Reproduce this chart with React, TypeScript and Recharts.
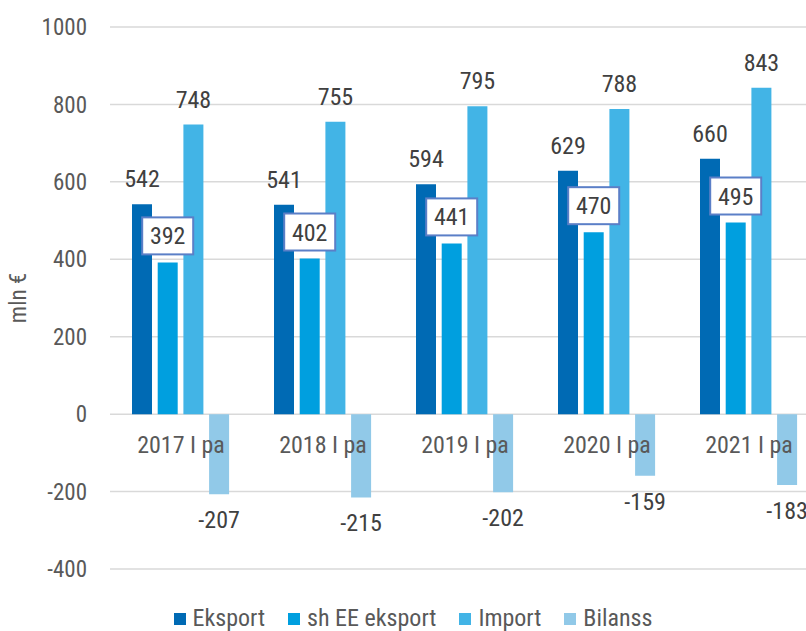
import React from 'react';
import { ComposedChart, Bar, Line, XAxis, YAxis, CartesianGrid, Legend, LabelList } from 'recharts';

const categories = ['2017 I pa', '2018 I pa', '2019 I pa', '2020 I pa', '2021 I pa'];
const eksport = [542, 541, 594, 629, 660];
const shEeEksport = [392, 402, 441, 470, 495];
const importValues = [748, 755, 795, 788, 843];
const bilanss = [-207, -215, -202, -159, -183];
const axisBase = [0, 0, 0, 0, 0];
const yTicks = [-400, -200, 0, 200, 400, 600, 800, 1000];
const seriesNames = ['Eksport', 'sh EE eksport', 'Import', 'Bilanss'];

const C_EKS = '#006AB4';
const C_SHEE = '#009FDF';
const C_IMP = '#42B4E6';
const C_BIL = '#91C9E8';
const seriesColors = [C_EKS, C_SHEE, C_IMP, C_BIL];

const data = categories.map((cat, i) => ({
  cat,
  eksport: eksport[i],
  shEe: shEeEksport[i],
  imp: importValues[i],
  bilanss: bilanss[i],
  base: axisBase[i],
}));

const FONT = 'Roboto, "Noto Sans", sans-serif';
const STRETCH = 'condensed';
const FS = 24;
const LABEL_COLOR = '#404040';
const TICK_COLOR = '#595959';

function box(p: any) {
  const vb = p.viewBox || {};
  const x = vb.x ?? p.x ?? 0;
  const y = vb.y ?? p.y ?? 0;
  const w = vb.width ?? p.width ?? 0;
  const h = vb.height ?? p.height ?? 0;
  return { cx: x + w / 2, top: Math.min(y, y + h), bottom: Math.max(y, y + h) };
}

const textStyle: any = { fontFamily: FONT, fontStretch: STRETCH };

const TopLabel = (p: any) => {
  const b = box(p);
  return (
    <text x={b.cx} y={b.top - 17} textAnchor="middle" fontSize={FS} fill={LABEL_COLOR} style={textStyle}>
      {p.value}
    </text>
  );
};

const BoxLabel = (p: any) => {
  const b = box(p);
  const cy = b.top - 26.5;
  const w = 51;
  const h = 37;
  return (
    <g>
      <rect x={b.cx - w / 2} y={cy - h / 2} width={w} height={h} fill="#fff" stroke="#5B7FC7" strokeWidth={2} />
      <text x={b.cx} y={cy + 8.5} textAnchor="middle" fontSize={FS} fill={LABEL_COLOR} style={textStyle}>
        {p.value}
      </text>
    </g>
  );
};

const BottomLabel = (p: any) => {
  const b = box(p);
  return (
    <text x={b.cx} y={b.bottom + 34} textAnchor="middle" fontSize={FS} fill={LABEL_COLOR} style={textStyle}>
      {p.value}
    </text>
  );
};

const CatLabel = (p: any) => {
  const b = box(p);
  return (
    <text x={b.cx} y={b.top + 39} textAnchor="middle" fontSize={FS} fill={TICK_COLOR} style={textStyle}>
      {p.value}
    </text>
  );
};

const YLabel = (p: any) => {
  const vb = p.viewBox || {};
  const cy = (vb.y ?? 0) + (vb.height ?? 0) / 2;
  const x = (vb.x ?? 0) + 18;
  return (
    <text
      x={x}
      y={cy}
      transform={`rotate(-90, ${x}, ${cy})`}
      textAnchor="middle"
      dominantBaseline="central"
      fontSize={23}
      fill={TICK_COLOR}
      style={textStyle}
    >
      mln €
    </text>
  );
};

const LegendContent = () => (
  <div style={{ display: 'flex', justifyContent: 'center', alignItems: 'center', height: 25, fontFamily: FONT, fontStretch: STRETCH, fontSize: FS, color: TICK_COLOR, lineHeight: '25px' }}>
    {seriesNames.map((name, i) => (
      <div key={name} style={{ display: 'flex', alignItems: 'center', marginRight: i < seriesNames.length - 1 ? 23 : 0 }}>
        <span style={{ display: 'inline-block', width: 12, height: 12, background: seriesColors[i], marginRight: 7 }} />
        <span style={{ whiteSpace: 'nowrap' }}>{name}</span>
      </div>
    ))}
  </div>
);

export default function App() {
  return (
    <div style={{ position: 'absolute', left: 0, top: 0, width: 806, height: 631, overflow: 'hidden', background: '#fff' }}>
      <ComposedChart
        width={820}
        height={631}
        data={data}
        margin={{ top: 27, right: 0, bottom: 37, left: 0 }}
        barSize={20}
        barGap={5.7}
      >
        <CartesianGrid vertical={false} stroke="#D9D9D9" strokeWidth={1.5} />
        <XAxis dataKey="cat" hide />
        <YAxis
          width={110}
          domain={[-400, 1000]}
          ticks={yTicks}
          axisLine={false}
          tickLine={false}
          tickSize={0}
          tickMargin={23}
          tick={{ fill: TICK_COLOR, fontSize: 23, fontFamily: FONT, style: textStyle }}
          label={{ content: YLabel }}
        />
        <Legend
          height={25}
          content={LegendContent}
          wrapperStyle={{ top: 606, bottom: 'auto', left: 3, width: 820, height: 25 }}
        />
        <Bar dataKey="eksport" name={seriesNames[0]} fill={C_EKS} isAnimationActive={false}>
          <LabelList dataKey="eksport" content={TopLabel} />
        </Bar>
        <Bar dataKey="shEe" name={seriesNames[1]} fill={C_SHEE} isAnimationActive={false}>
          <LabelList dataKey="shEe" content={BoxLabel} />
        </Bar>
        <Bar dataKey="imp" name={seriesNames[2]} fill={C_IMP} isAnimationActive={false}>
          <LabelList dataKey="imp" content={TopLabel} />
        </Bar>
        <Bar dataKey="bilanss" name={seriesNames[3]} fill={C_BIL} isAnimationActive={false}>
          <LabelList dataKey="bilanss" content={BottomLabel} />
        </Bar>
        <Line dataKey="base" stroke="none" dot={false} activeDot={false} legendType="none" isAnimationActive={false}>
          <LabelList dataKey="cat" content={CatLabel} />
        </Line>
      </ComposedChart>
    </div>
  );
}
